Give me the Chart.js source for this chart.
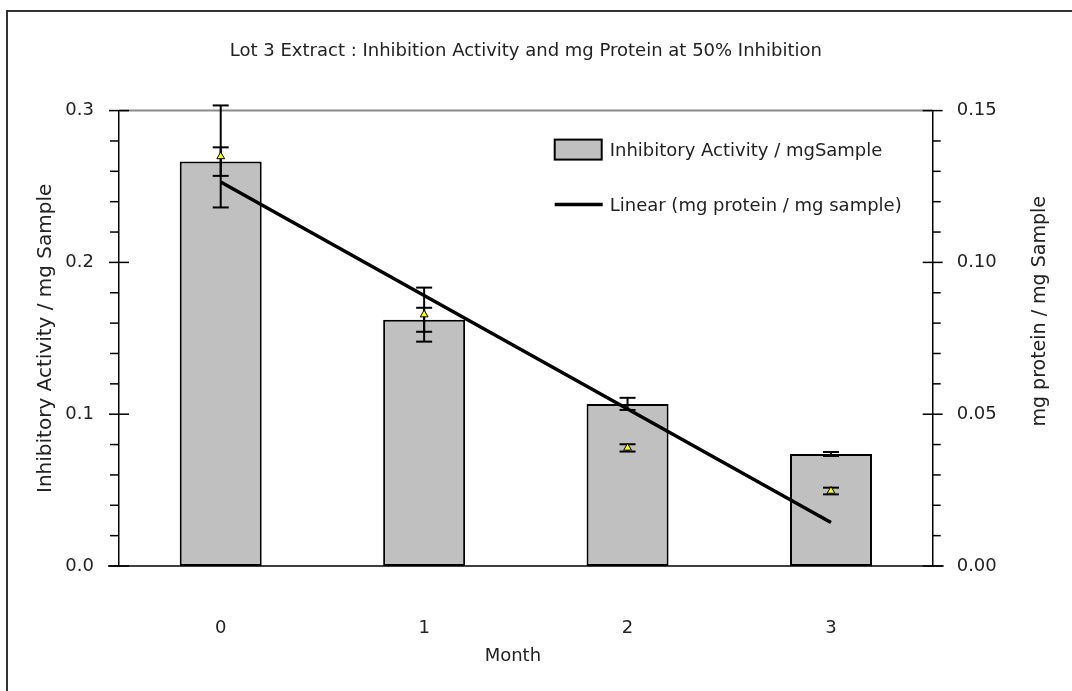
<!DOCTYPE html>
<html>
<head>
<meta charset="utf-8">
<script src="https://cdn.jsdelivr.net/npm/chart.js@4.4.0/dist/chart.umd.min.js"></script>
<style>
  html, body { margin: 0; padding: 0; background: #fff; }
  #wrap { width: 1072px; height: 691px; }
</style>
</head>
<body>
<div id="wrap"><canvas id="chart" width="1072" height="691"></canvas></div>
<script>
'use strict'
const months = ['0', '1', '2', '3']
// left axis: inhibitory activity per mg sample
const activity = [0.2664, 0.1622, 0.1068, 0.0738]
const activityErr = [0.0094, 0.0079, 0.004, 0.0013]
// right axis: mg protein per mg sample, with its linear fit
const protein = [0.1349, 0.0828, 0.0389, 0.0247]
const proteinErr = [0.0168, 0.0089, 0.0012, 0.0011]
const proteinTrend = [0.1265, 0.0891, 0.0517, 0.0143]
const leftTicks = [0, 0.1, 0.2, 0.3]
const rightTicks = [0, 0.05, 0.1, 0.15]

const FONT = "'DejaVu Sans', Verdana, sans-serif"
const TEXT = '#222'
const FS = 18

function strokeLine(ctx, x1, y1, x2, y2) {
  ctx.beginPath()
  ctx.moveTo(x1, y1)
  ctx.lineTo(x2, y2)
  ctx.stroke()
}

function drawErrors(chart, meta, values, errs, scale) {
  const ctx = chart.ctx
  ctx.save()
  ctx.strokeStyle = '#000'
  ctx.lineWidth = 2
  meta.data.forEach((el, i) => {
    const top = scale.getPixelForValue(values[i] + errs[i])
    const bot = scale.getPixelForValue(values[i] - errs[i])
    strokeLine(ctx, el.x, top, el.x, bot)
    strokeLine(ctx, el.x - 8, top, el.x + 8, top)
    strokeLine(ctx, el.x - 8, bot, el.x + 8, bot)
  })
  ctx.restore()
}

const errorBars = {
  id: 'errorBars',
  afterDatasetDraw(chart, args) {
    if (args.meta.type === 'bar')
      drawErrors(chart, args.meta, activity, activityErr, chart.scales.y)
  },
  beforeDatasetDraw(chart, args) {
    if (chart.data.datasets[args.index].label === 'protein')
      drawErrors(chart, args.meta, protein, proteinErr, chart.scales.y1)
  },
}

const decor = {
  id: 'decor',
  beforeDraw(chart) {
    const ctx = chart.ctx
    ctx.save()
    ctx.strokeStyle = '#333'
    ctx.lineWidth = 2
    ctx.beginPath()
    ctx.moveTo(7, chart.height)
    ctx.lineTo(7, 11)
    ctx.lineTo(chart.width, 11)
    ctx.stroke()
    ctx.restore()
  },
  beforeDatasetsDraw(chart) {
    const { ctx, chartArea, scales } = chart
    const yTop = scales.y.getPixelForValue(leftTicks[leftTicks.length - 1])
    ctx.save()
    ctx.strokeStyle = '#8a8a8a'
    ctx.lineWidth = 2
    strokeLine(ctx, chartArea.left, yTop, chartArea.right, yTop)
    ctx.restore()
  },
  afterDraw(chart) {
    const { ctx, chartArea, scales } = chart
    const { left, right, top, bottom } = chartArea
    ctx.save()
    ctx.strokeStyle = '#000'
    ctx.lineWidth = 1.5

    // x axis line
    const y0 = scales.y.getPixelForValue(0)
    strokeLine(ctx, left - 11, y0, right + 11, y0)

    // left ticks: major every 0.1, minor every 0.02
    for (let i = 0; i <= 15; i++) {
      const py = scales.y.getPixelForValue(i * 0.02)
      if (i % 5 === 0) strokeLine(ctx, left - 10, py, left + 10, py)
      else strokeLine(ctx, left - 9, py, left, py)
    }
    // right ticks: major every 0.05, minor every 0.01
    for (let i = 0; i <= 15; i++) {
      const py = scales.y1.getPixelForValue(i * 0.01)
      if (i % 5 === 0) strokeLine(ctx, right - 10, py, right + 10, py)
      else strokeLine(ctx, right, py, right + 8, py)
    }

    ctx.fillStyle = TEXT
    ctx.font = FS + 'px ' + FONT
    ctx.textAlign = 'center'
    ctx.textBaseline = 'middle'
    // x axis title sits a little left of centre
    ctx.fillText('Month', (left + right) / 2 - 13, 656)

    // right axis title, reading upward like the left one
    ctx.font = '19px ' + FONT
    ctx.translate(1040, (top + bottom) / 2 - 27)
    ctx.rotate(-Math.PI / 2)
    ctx.fillText('mg protein / mg Sample', 0, 0)
    ctx.restore()

    // legend
    const lx = right - 378
    ctx.save()
    ctx.fillStyle = '#c0c0c0'
    ctx.fillRect(lx, top + 29, 47, 20)
    ctx.strokeStyle = '#000'
    ctx.lineWidth = 2
    ctx.strokeRect(lx, top + 29, 47, 20)
    ctx.lineWidth = 3.5
    strokeLine(ctx, lx, top + 94, lx + 48, top + 94)
    ctx.fillStyle = TEXT
    ctx.font = FS + 'px ' + FONT
    ctx.textAlign = 'left'
    ctx.textBaseline = 'middle'
    ctx.fillText('Inhibitory Activity / mgSample', lx + 55, top + 41)
    ctx.fillText('Linear (mg protein / mg sample)', lx + 55, top + 96)
    ctx.restore()
  },
}

Chart.defaults.font.family = FONT
Chart.defaults.font.size = FS
Chart.defaults.color = TEXT

new Chart(document.getElementById('chart'), {
  type: 'bar',
  data: {
    labels: months,
    datasets: [
      {
        type: 'line',
        label: 'protein',
        data: protein,
        yAxisID: 'y1',
        showLine: false,
        pointStyle: 'triangle',
        pointRadius: 4.5,
        pointBackgroundColor: '#ffff00',
        pointBorderColor: '#000',
        pointBorderWidth: 1,
        order: 0,
      },
      {
        type: 'line',
        label: 'Linear (mg protein / mg sample)',
        data: proteinTrend,
        yAxisID: 'y1',
        borderColor: '#000',
        borderWidth: 3.5,
        pointRadius: 0,
        tension: 0,
        order: 1,
      },
      {
        type: 'bar',
        label: 'Inhibitory Activity / mgSample',
        data: activity,
        yAxisID: 'y',
        backgroundColor: '#c0c0c0',
        borderColor: '#000',
        borderWidth: 2,
        borderSkipped: false,
        barPercentage: 0.403,
        categoryPercentage: 1,
        order: 2,
      },
    ],
  },
  options: {
    responsive: false,
    animation: false,
    layout: { padding: 0 },
    plugins: {
      legend: { display: false },
      tooltip: { enabled: false },
      title: {
        display: true,
        fullSize: false,
        text: 'Lot 3 Extract : Inhibition Activity and mg Protein at 50% Inhibition',
        font: { size: FS, weight: 'normal' },
        color: TEXT,
        padding: { top: 41, bottom: 48 },
      },
    },
    scales: {
      x: {
        grid: { display: false, drawTicks: false },
        border: { display: false },
        ticks: { padding: 52 },
        afterFit: (s) => { s.height = 125 },
      },
      y: {
        position: 'left',
        min: 0,
        max: 0.3,
        afterBuildTicks: (s) => { s.ticks = leftTicks.map((v) => ({ value: v })) },
        ticks: { padding: 25, callback: (v) => v.toFixed(1) },
        grid: { display: false, drawTicks: false },
        border: { display: true, color: '#000', width: 1.5 },
        title: {
          display: true,
          text: 'Inhibitory Activity / mg Sample',
          font: { size: 20 },
          padding: { top: 34, bottom: 0 },
        },
        afterFit: (s) => { s.width = 119 },
      },
      y1: {
        position: 'right',
        min: 0,
        max: 0.15,
        afterBuildTicks: (s) => { s.ticks = rightTicks.map((v) => ({ value: v })) },
        ticks: { padding: 24, callback: (v) => v.toFixed(2) },
        grid: { display: false, drawTicks: false },
        border: { display: true, color: '#000', width: 1.5 },
        afterFit: (s) => { s.width = 139.3 },
      },
    },
  },
  plugins: [errorBars, decor],
})
</script>
</body>
</html>
